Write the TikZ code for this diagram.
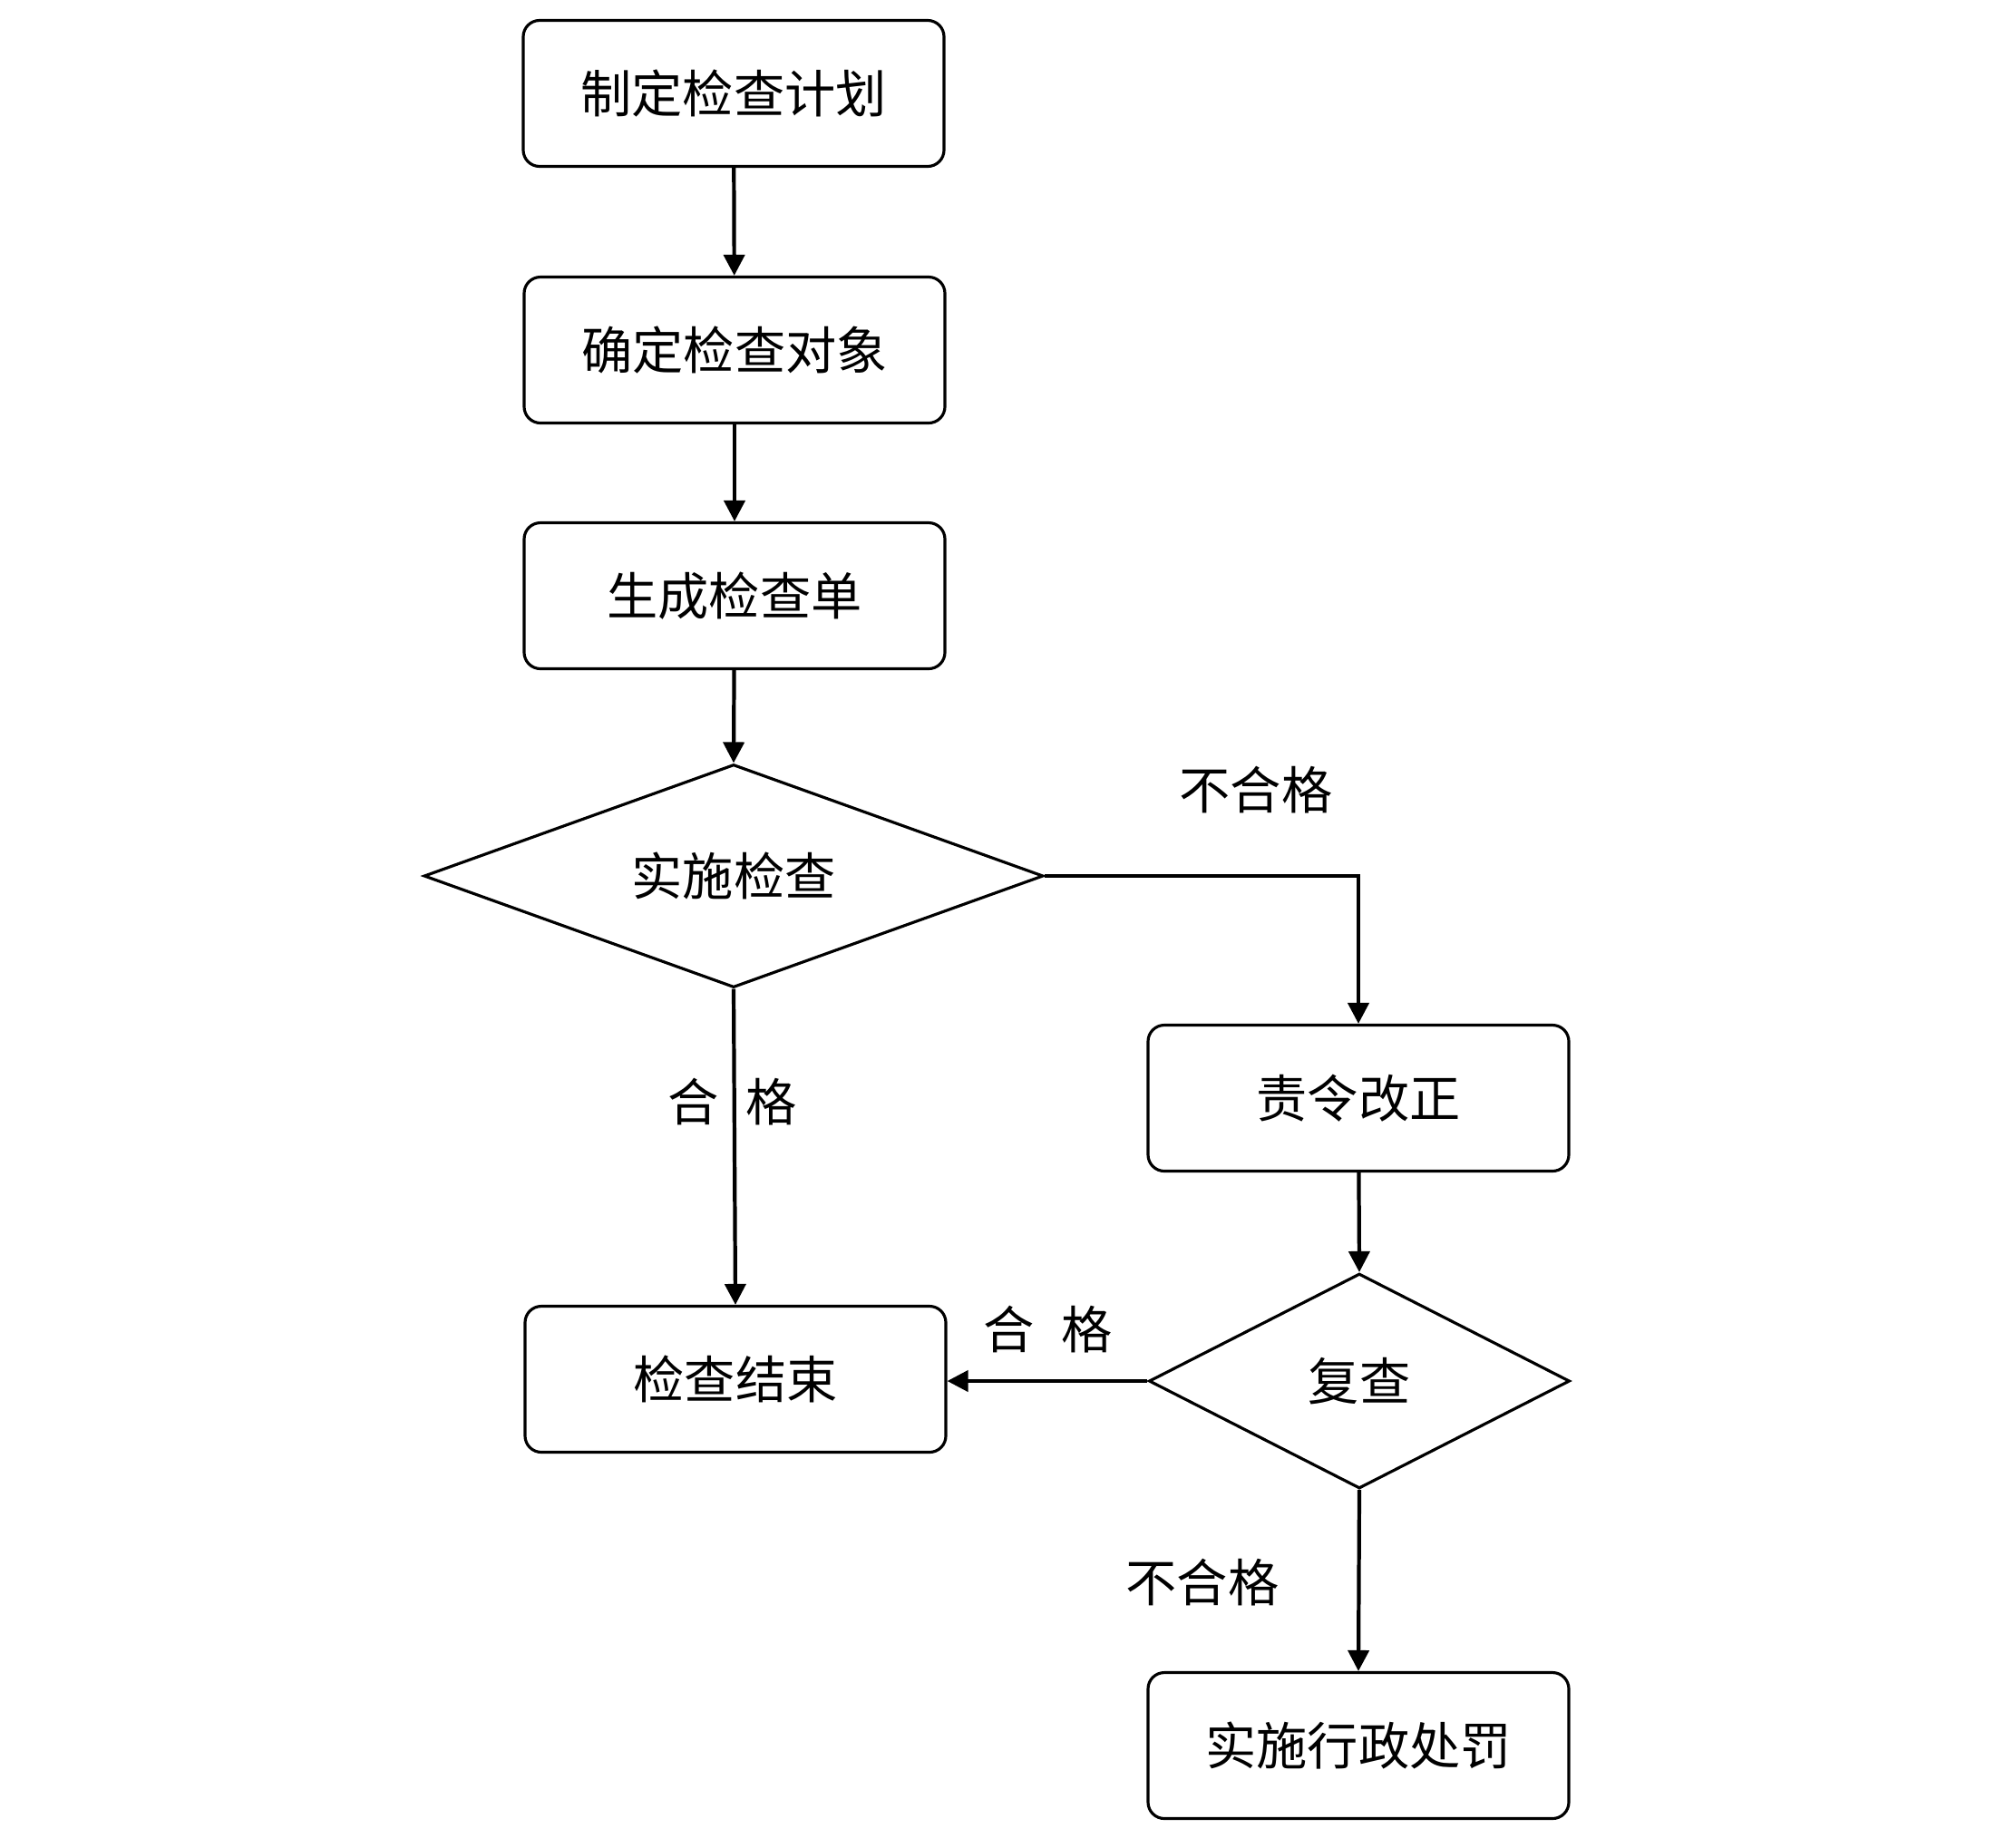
\documentclass[tikz,border=0pt]{standalone}
\usepackage{fontspec}
\newfontfamily\cjk{Noto Sans CJK SC}
\usetikzlibrary{shapes.geometric,arrows.meta}

\begin{document}
\begin{tikzpicture}[
  stepbox/.style={draw, line width=0.9pt, rounded corners=0.18cm, minimum width=4.64cm, minimum height=1.61cm, font=\cjk\fontsize{16pt}{19pt}\selectfont},
  choice/.style={draw, diamond, line width=0.9pt, inner sep=0pt, font=\cjk\fontsize{16pt}{19pt}\selectfont},
  lbl/.style={font=\cjk\fontsize{16pt}{19pt}\selectfont},
  flow/.style={line width=1.2pt, -{Triangle[length=2.3mm,width=2.3mm]}}
]
  \useasboundingbox (0,0) rectangle (22,-20.37);
  \node[stepbox] (plan) at (8.09,-1.03) {制定检查计划};
  \node[stepbox] (obj) at (8.10,-3.86) {确定检查对象};
  \node[stepbox] (list) at (8.10,-6.57) {生成检查单};
  \node[choice, shape aspect=2.78, minimum width=6.83cm, minimum height=2.46cm] (check) at (8.09,-9.66) {实施检查};
  \node[stepbox] (fix) at (14.98,-12.11) {责令改正};
  \node[stepbox] (end) at (8.11,-15.21) {检查结束};
  \node[choice, shape aspect=1.96, minimum width=4.64cm, minimum height=2.37cm] (recheck) at (14.99,-15.23) {复查};
  \node[stepbox] (punish) at (14.98,-19.25) {实施行政处罚};

  \draw[flow] (plan) -- (obj);
  \draw[flow] (obj) -- (list);
  \draw[flow] (list) -- (check.north);
  \draw[flow] (check.east) -| (fix.north);
  \draw[flow] (check.south) -- (end.north);
  \draw[flow] (fix) -- (recheck.north);
  \draw[flow] (recheck.west) -- (recheck.west -| end.east);
  \draw[flow] (recheck.south) -- (punish.north);

  \node[lbl] (fail1) at (13.85,-8.71) {不合格};
  \node[lbl] (pass1) at (8.08,-12.15) {合\hspace{0.3cm}格};
  \node[lbl] (pass2) at (11.56,-14.66) {合\hspace{0.3cm}格};
  \node[lbl] (fail2) at (13.26,-17.45) {不合格};
\end{tikzpicture}
\end{document}
